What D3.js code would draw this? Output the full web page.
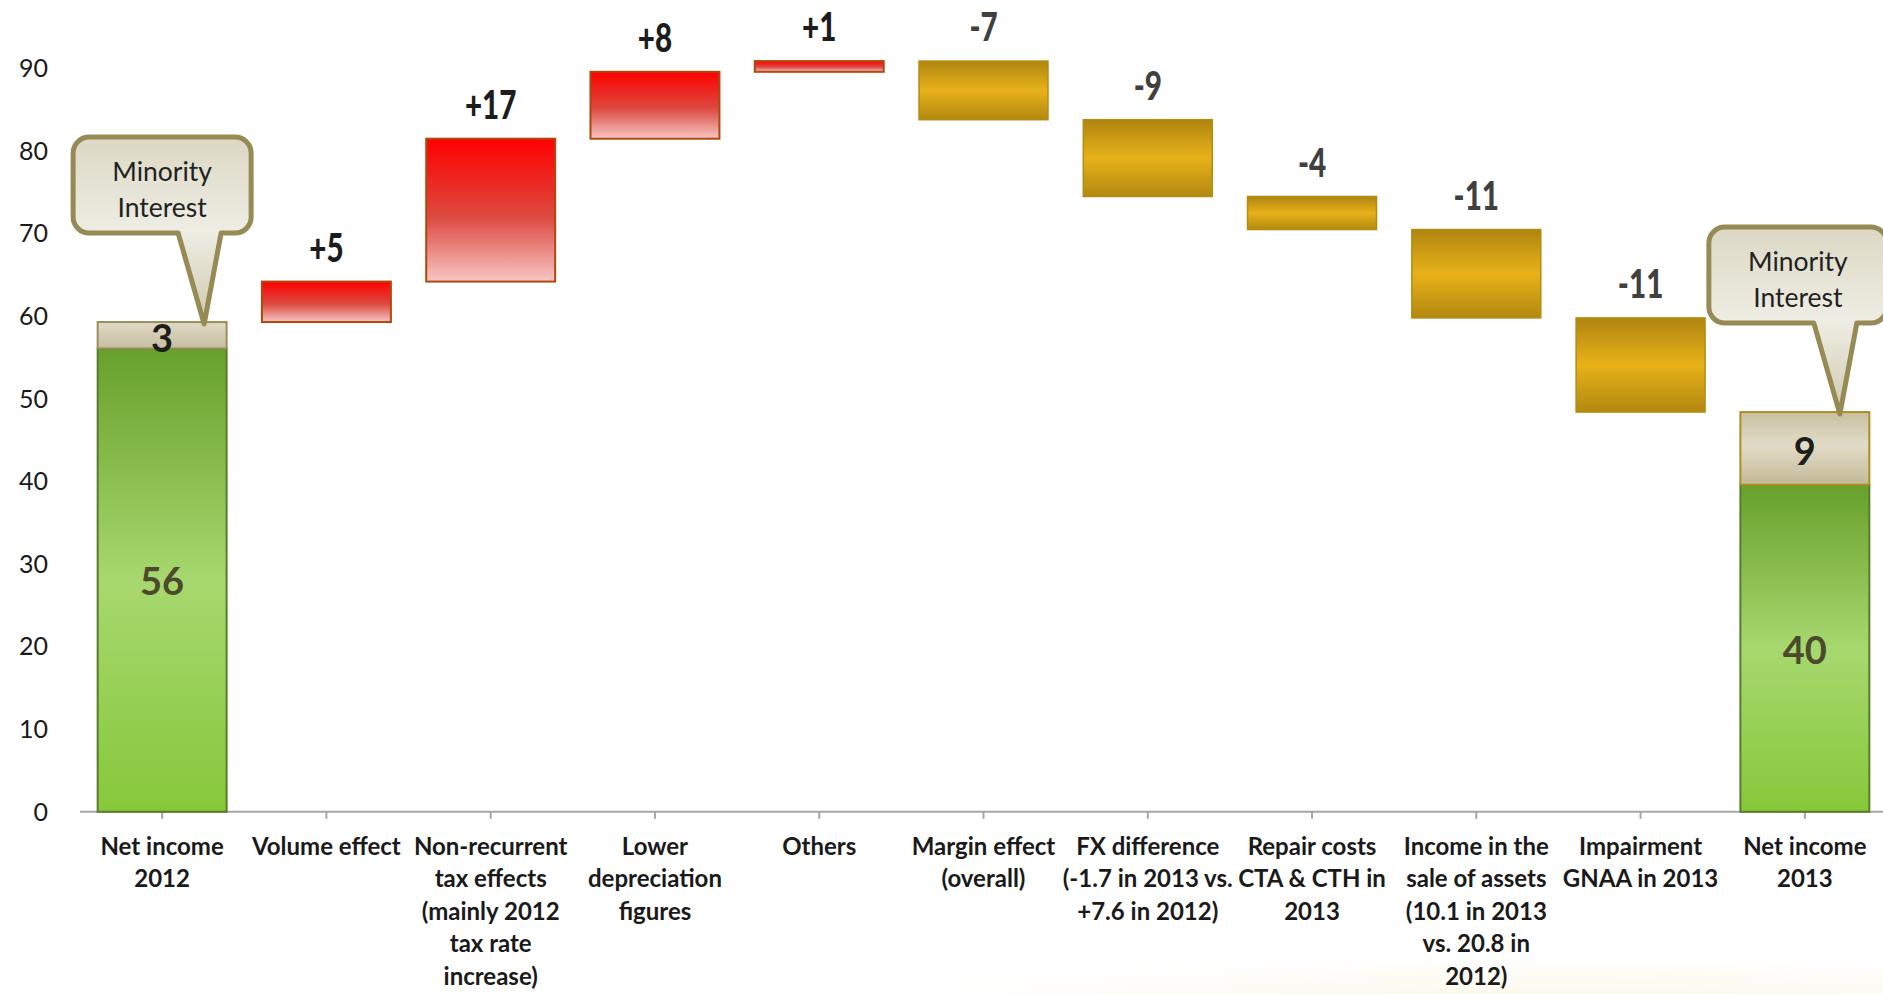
<!DOCTYPE html>
<html>
<head>
<meta charset="utf-8">
<script src="https://cdn.jsdelivr.net/npm/d3@7"></script>
<style>
  body { margin: 0; background: #ffffff; }
  svg { display: block; }
</style>
</head>
<body>
<svg id="chart" width="1883" height="994"></svg>
<script>
// ---- data -------------------------------------------------------------
const categories = [
  "Net income 2012", "Volume effect", "Non-recurrent tax effects", "Lower depreciation figures",
  "Others", "Margin effect", "FX difference", "Repair costs",
  "Income in the sale of assets", "Impairment", "Net income 2013"
];
const categoryLines = [
  ["Net income", "2012"],
  ["Volume effect"],
  ["Non-recurrent", "tax effects", "(mainly 2012", "tax rate", "increase)"],
  ["Lower", "depreciation", "figures"],
  ["Others"],
  ["Margin effect", "(overall)"],
  ["FX difference", "(-1.7 in 2013 vs.", "+7.6 in 2012)"],
  ["Repair costs", "CTA & CTH in", "2013"],
  ["Income in the", "sale of assets", "(10.1 in 2013", "vs. 20.8 in", "2012)"],
  ["Impairment", "GNAA in 2013"],
  ["Net income", "2013"]
];
// net income (without minorities) for 2012 and 2013
const netIncome = [56.1, 39.6];
// minority interest for 2012 and 2013
const minorityInterest = [3.2, 8.8];
// bridge items between the two totals
const changes = [4.9, 17.3, 8.1, 1.3, -7.1, -9.3, -4.0, -10.7, -11.4];
const yTicks = [0, 10, 20, 30, 40, 50, 60, 70, 80, 90];
const calloutLines = ["Minority", "Interest"];

// ---- layout -----------------------------------------------------------
const W = 1883, H = 994;
const svg = d3.select("#chart");

const x = d3.scaleBand()
  .domain(categories)
  .range([80, 1887])
  .paddingInner(0.215)
  .paddingOuter(0.1075);

const y = d3.scaleLinear()
  .domain([0, 90])
  .range([811.8, 68.5]);

// ---- gradients --------------------------------------------------------
const defs = svg.append("defs");
function vGrad(id, stops) {
  const g = defs.append("linearGradient").attr("id", id)
    .attr("x1", 0).attr("y1", 0).attr("x2", 0).attr("y2", 1);
  stops.forEach(([o, c]) => g.append("stop").attr("offset", o).attr("stop-color", c));
}
vGrad("gGreen", [[0, "#67a02b"], [0.5, "#a7d86f"], [1, "#86c83a"]]);
vGrad("gMinority", [[0, "#c8c0a0"], [0.45, "#e1dcc8"], [1, "#c3ba97"]]);
vGrad("gMinorityTop", [[0, "#e0dac6"], [1, "#c6bea0"]]);
vGrad("gRed", [[0, "#ff0000"], [0.55, "#dc4a40"], [1, "#f7c6c4"]]);
vGrad("gGold", [[0, "#b0850f"], [0.5, "#e7b219"], [1, "#b28810"]]);
vGrad("gCallout", [[0, "#dcd8c4"], [0.5, "#eeede4"], [1, "#d0c9ad"]]);

// faint warm glow along the lower right edge of the page
const floor = defs.append("radialGradient").attr("id", "gFloor")
  .attr("cx", 0.5).attr("cy", 0.5).attr("r", 0.5);
floor.append("stop").attr("offset", 0).attr("stop-color", "#f8f0d6").attr("stop-opacity", 0.6);
floor.append("stop").attr("offset", 1).attr("stop-color", "#f8f0d6").attr("stop-opacity", 0);
svg.append("ellipse")
  .attr("cx", 1560).attr("cy", 1010).attr("rx", 720).attr("ry", 55)
  .attr("fill", "url(#gFloor)");

// ---- waterfall geometry -----------------------------------------------
const startTotal = netIncome[0] + minorityInterest[0];
let running = startTotal;
const steps = changes.map((v, i) => {
  const from = running;
  running += v;
  return { cat: categories[i + 1], value: v, from, to: running };
});
const fmtChange = v => (v > 0 ? "+" : "-") + Math.round(Math.abs(v));

// ---- x axis -----------------------------------------------------------
const axisG = svg.append("g").attr("transform", `translate(0,${y(0)})`);
axisG.append("line")
  .attr("x1", 80).attr("x2", W).attr("y1", 0).attr("y2", 0)
  .attr("stroke", "#a6a6a6").attr("stroke-width", 2);
axisG.selectAll("line.tick").data(categories).join("line")
  .attr("class", "tick")
  .attr("x1", d => x(d) + x.bandwidth() / 2).attr("x2", d => x(d) + x.bandwidth() / 2)
  .attr("y1", 0).attr("y2", 7)
  .attr("stroke", "#a6a6a6").attr("stroke-width", 2);

const catLabel = svg.append("g")
  .attr("font-family", "Lato, 'Open Sans', sans-serif")
  .attr("font-weight", 700).attr("font-size", 24).attr("fill", "#1a1a1a")
  .attr("text-anchor", "middle");
categories.forEach((c, i) => {
  const t = catLabel.append("text")
    .attr("x", x(c) + x.bandwidth() / 2).attr("y", 855);
  categoryLines[i].forEach((line, k) => {
    t.append("tspan").attr("x", x(c) + x.bandwidth() / 2)
      .attr("dy", k === 0 ? 0 : 32.4).text(line);
  });
});

// ---- y tick labels ----------------------------------------------------
svg.append("g")
  .attr("font-family", "Lato, 'Open Sans', sans-serif")
  .attr("font-size", 25).attr("fill", "#1a1a1a").attr("text-anchor", "end")
  .selectAll("text").data(yTicks).join("text")
  .attr("x", 48).attr("y", d => y(d)).attr("dy", "0.35em")
  .text(d => d);

// ---- total bars -------------------------------------------------------
const totals = [
  { cat: categories[0], net: netIncome[0], mi: minorityInterest[0], miStroke: "#9a8f5c", shift: 0 },
  { cat: categories[10], net: netIncome[1], mi: minorityInterest[1], miStroke: "#b08c20", shift: -7 }
];
const totalsG = svg.append("g");
totals.forEach(t => {
  const bx = x(t.cat), bw = x.bandwidth();
  totalsG.append("rect")
    .attr("x", bx).attr("width", bw)
    .attr("y", y(t.net)).attr("height", y(0) - y(t.net))
    .attr("fill", "url(#gGreen)").attr("stroke", "#5a7c2a").attr("stroke-width", 2);
  totalsG.append("rect")
    .attr("x", bx).attr("width", bw)
    .attr("y", y(t.net + t.mi)).attr("height", y(t.net) - y(t.net + t.mi))
    .attr("fill", t.mi < 5 ? "url(#gMinorityTop)" : "url(#gMinority)")
    .attr("stroke", t.miStroke).attr("stroke-width", 2);
  totalsG.append("text")
    .attr("x", bx + bw / 2).attr("y", (y(0) + y(t.net)) / 2 + 2).attr("dy", "0.35em")
    .attr("text-anchor", "middle")
    .attr("font-family", "Lato, 'Open Sans', sans-serif").attr("font-weight", 700)
    .attr("font-size", 38).attr("fill", "#4c4a2c")
    .text(Math.round(t.net));
  totalsG.append("text")
    .attr("x", bx + bw / 2).attr("y", (y(t.net) + y(t.net + t.mi)) / 2 + 3).attr("dy", "0.35em")
    .attr("text-anchor", "middle")
    .attr("font-family", "Lato, 'Open Sans', sans-serif").attr("font-weight", 700)
    .attr("font-size", 38).attr("fill", "#1e1e1a")
    .text(Math.round(t.mi));
});

// ---- change bars ------------------------------------------------------
const stepG = svg.append("g");
stepG.selectAll("rect").data(steps).join("rect")
  .attr("x", d => x(d.cat)).attr("width", x.bandwidth())
  .attr("y", d => y(Math.max(d.from, d.to)))
  .attr("height", d => Math.abs(y(d.from) - y(d.to)))
  .attr("fill", d => d.value > 0 ? "url(#gRed)" : "url(#gGold)")
  .attr("stroke", d => d.value > 0 ? "#b0480e" : "#b58c12")
  .attr("stroke-width", d => d.value > 0 ? 2 : 1.5);

// condensed value labels above each change bar
stepG.selectAll("text").data(steps).join("text")
  .attr("transform", d =>
    `translate(${x(d.cat) + x.bandwidth() / 2},${y(Math.max(d.from, d.to)) - 20}) scale(0.76,1)`)
  .attr("text-anchor", "middle")
  .attr("font-family", "Lato, 'Open Sans', sans-serif")
  .attr("font-weight", 900).attr("font-size", 39)
  .attr("fill", d => d.value > 0 ? "#1c1c1c" : "#404040")
  .text(d => fmtChange(d.value));

// ---- minority interest callouts ---------------------------------------
function calloutPath(cx, barTop, shift) {
  const w = 178, r = 16;
  const mid = cx + shift;
  const left = mid - w / 2, right = mid + w / 2;
  const top = barTop - 185, bottom = barTop - 89;
  const b1 = mid + 16, b2 = mid + 59, tipX = mid + 42, tipY = barTop + 2;
  const p = d3.path();
  p.moveTo(left + r, top);
  p.lineTo(right - r, top);
  p.arcTo(right, top, right, top + r, r);
  p.lineTo(right, bottom - r);
  p.arcTo(right, bottom, right - r, bottom, r);
  p.lineTo(b2, bottom);
  p.lineTo(tipX, tipY);
  p.lineTo(b1, bottom);
  p.lineTo(left + r, bottom);
  p.arcTo(left, bottom, left, bottom - r, r);
  p.lineTo(left, top + r);
  p.arcTo(left, top, left + r, top, r);
  p.closePath();
  return { d: p.toString(), top, mid };
}
const calloutG = svg.append("g");
totals.forEach(t => {
  const cx = x(t.cat) + x.bandwidth() / 2;
  const barTop = y(t.net + t.mi);
  const c = calloutPath(cx, barTop, t.shift);
  calloutG.append("path")
    .attr("d", c.d)
    .attr("fill", "url(#gCallout)")
    .attr("stroke", "#968b55").attr("stroke-width", 5)
    .attr("stroke-linejoin", "round");
  const txt = calloutG.append("text")
    .attr("text-anchor", "middle")
    .attr("font-family", "Lato, 'Open Sans', sans-serif")
    .attr("font-size", 26.5).attr("fill", "#222222");
  calloutLines.forEach((line, k) => {
    txt.append("tspan").attr("x", c.mid).attr("y", c.top + 44 + k * 36).text(line);
  });
});
</script>
</body>
</html>
